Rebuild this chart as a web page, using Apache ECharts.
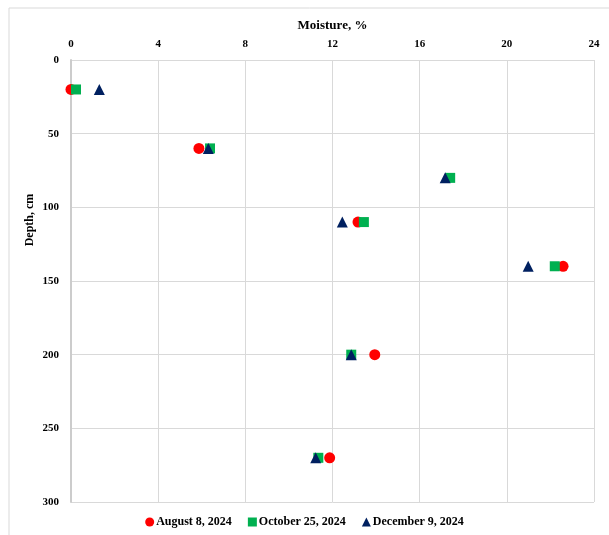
<!DOCTYPE html>
<html>
<head>
<meta charset="utf-8">
<script src="https://cdn.jsdelivr.net/npm/echarts@6/dist/echarts.min.js"></script>
<style>html,body{margin:0;padding:0;background:#fff}#c{width:609px;height:535px}</style>
</head>
<body>
<div id="c"></div>
<script>
const seriesNames = ['August 8, 2024', 'October 25, 2024', 'December 9, 2024'];
const depths = [20, 60, 80, 110, 140, 200, 270];
const aug = [[0.0, 20], [5.87, 60], [13.17, 110], [22.58, 140], [13.94, 200], [11.87, 270]];
const oct = [[0.23, 20], [6.38, 60], [17.4, 80], [13.44, 110], [22.2, 140], [12.86, 200], [11.35, 270]];
const dec = [[1.3, 20], [6.3, 60], [17.17, 80], [12.45, 110], [20.98, 140], [12.86, 200], [11.23, 270]];
const xTicks = [0, 4, 8, 12, 16, 20, 24];
const yTicks = [0, 50, 100, 150, 200, 250, 300];

const font = 'Liberation Serif, Times New Roman, serif';
const chart = echarts.init(document.getElementById('c'));
chart.setOption({
  animation: false,
  backgroundColor: '#fff',
  grid: {left: 71, right: 15, top: 60, bottom: 33, containLabel: false},
  legend: {
    bottom: 2, left: 'center', itemGap: 16, itemWidth: 9, itemHeight: 9,
    textStyle: {fontFamily: font, fontWeight: 'bold', fontSize: 12, color: '#000', padding: [0, 0, 0, -3]},
    data: [
      {name: seriesNames[0], icon: 'circle'},
      {name: seriesNames[1], icon: 'rect'},
      {name: seriesNames[2], icon: 'triangle'}
    ]
  },
  graphic: [
    {type: 'rect', shape: {x: 9, y: 8, width: 700, height: 700}, style: {fill: 'none', stroke: '#d9d9d9', lineWidth: 1}, z: -1},
    {type: 'text', x: 30, y: 220, rotation: Math.PI / 2,
      style: {text: 'Depth, cm', font: 'bold 12px ' + font, fill: '#000', align: 'center', verticalAlign: 'middle'}}
  ],
  xAxis: {
    type: 'value', position: 'top', min: 0, max: 24, interval: 4,
    name: 'Moisture, %', nameLocation: 'middle', nameGap: 28,
    nameTextStyle: {fontFamily: font, fontWeight: 'bold', fontSize: 13, color: '#000'},
    axisLine: {show: false}, axisTick: {show: false},
    axisLabel: {fontFamily: font, fontWeight: 'bold', fontSize: 11, color: '#000', margin: 10,
      formatter: v => xTicks.includes(v) ? String(v) : ''},
    splitLine: {show: true, lineStyle: {color: '#d9d9d9', width: 1}}
  },
  yAxis: {
    type: 'value', inverse: true, min: 0, max: 300, interval: 50,
    axisLine: {show: true, lineStyle: {color: '#cccccc', width: 2}}, axisTick: {show: false},
    axisLabel: {fontFamily: font, fontWeight: 'bold', fontSize: 11, color: '#000', margin: 12,
      formatter: v => yTicks.includes(v) ? String(v) : ''},
    splitLine: {show: true, lineStyle: {color: '#d9d9d9', width: 1}}
  },
  series: [
    {name: seriesNames[0], type: 'scatter', symbol: 'circle', symbolSize: 11, data: aug, itemStyle: {color: '#ff0000', opacity: 1}, z: 2},
    {name: seriesNames[1], type: 'scatter', symbol: 'rect', symbolSize: 10, data: oct, itemStyle: {color: '#00b050', opacity: 1}, z: 3},
    {name: seriesNames[2], type: 'scatter', symbol: 'triangle', symbolSize: 11, data: dec, itemStyle: {color: '#002060', opacity: 1}, z: 4}
  ]
});
</script>
</body>
</html>
